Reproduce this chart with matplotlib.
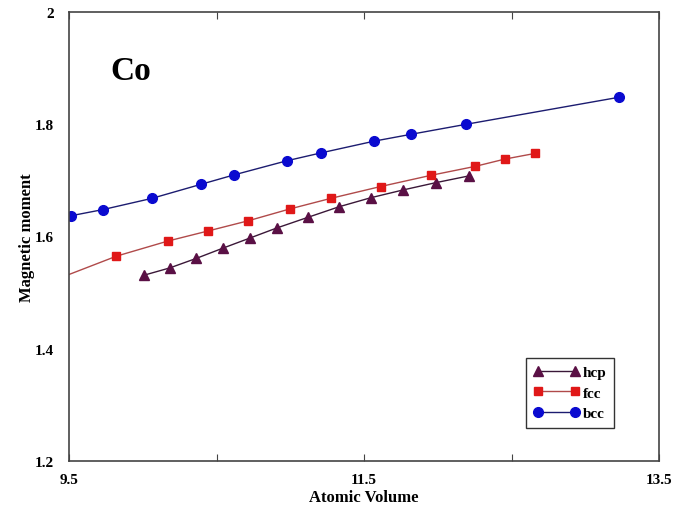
import matplotlib.pyplot as plt
from matplotlib.ticker import FixedLocator, FixedFormatter

# atomic volume / magnetic moment for Co in three structures
hcp_vol = [10.008, 10.183, 10.363, 10.541, 10.724, 10.907, 11.118, 11.331, 11.545, 11.766, 11.988, 12.212]
hcp_mom = [1.531, 1.544, 1.561, 1.579, 1.597, 1.615, 1.634, 1.653, 1.669, 1.683, 1.696, 1.708]

fcc_vol = [9.30, 9.822, 10.172, 10.445, 10.715, 10.996, 11.276, 11.612, 11.954, 12.255, 12.456, 12.659]
fcc_mom = [1.512, 1.565, 1.592, 1.610, 1.628, 1.649, 1.668, 1.689, 1.709, 1.725, 1.738, 1.748]

bcc_vol = [9.514, 9.731, 10.063, 10.395, 10.622, 10.978, 11.209, 11.571, 11.817, 12.194, 13.227]
bcc_mom = [1.637, 1.648, 1.668, 1.693, 1.710, 1.735, 1.749, 1.770, 1.782, 1.800, 1.848]

xticks = [9.5, 10.5, 11.5, 12.5, 13.5]
xlabels = ["9.5", "", "11.5", "", "13.5"]
yticks = [1.2, 1.4, 1.6, 1.8, 2.0]
ylabels = ["1.2", "1.4", "1.6", "1.8", "2"]

plt.rcParams["font.family"] = "Liberation Serif"
plt.rcParams["font.weight"] = "bold"

fig = plt.figure(figsize=(6.92, 5.10), dpi=100)
ax = fig.add_axes([69 / 692, 48 / 510, 590 / 692, 449 / 510])

ax.plot(hcp_vol, hcp_mom, color="#3a1838", lw=1.0, marker="^", ms=7,
        mfc="#5a1045", mec="#5a1045", label="hcp")
ax.plot(fcc_vol, fcc_mom, color="#b04a4a", lw=1.0, marker="s", ms=5.5,
        mfc="#e01818", mec="#e01818", label="fcc")
ax.plot(bcc_vol, bcc_mom, color="#1c1c70", lw=1.0, marker="o", ms=7,
        mfc="#0a0ad0", mec="#0a0ad0", label="bcc")

ax.set_xlim(9.5, 13.5)
ax.set_ylim(1.2, 2.0)
ax.xaxis.set_major_locator(FixedLocator(xticks))
ax.xaxis.set_major_formatter(FixedFormatter(xlabels))
ax.yaxis.set_major_locator(FixedLocator(yticks))
ax.yaxis.set_major_formatter(FixedFormatter(ylabels))
ax.tick_params(axis="x", direction="in", top=True, length=5, width=0.8,
               pad=9, labelsize=11, color="#444444")
ax.tick_params(axis="y", length=0, pad=11, labelsize=11)
for sp in ax.spines.values():
    sp.set_color("#444444")
    sp.set_linewidth(1.2)

ax.set_xlabel("Atomic Volume", fontsize=12, fontweight="bold", labelpad=2)
ax.set_ylabel("Magnetic moment", fontsize=12, fontweight="bold", labelpad=0)

ax.text(0.07, 0.905, "Co", transform=ax.transAxes, fontsize=24,
        fontweight="bold", va="top", ha="left")

leg = ax.legend(loc="lower left", bbox_to_anchor=(0.762, 0.057), numpoints=2,
                handlelength=3.0, handletextpad=0.2, borderpad=0.5,
                labelspacing=0.45, fancybox=False, framealpha=1,
                edgecolor="#333333", prop={"weight": "bold", "size": 11})
leg.get_frame().set_linewidth(1.0)

fig.savefig("out.png", dpi=100)
